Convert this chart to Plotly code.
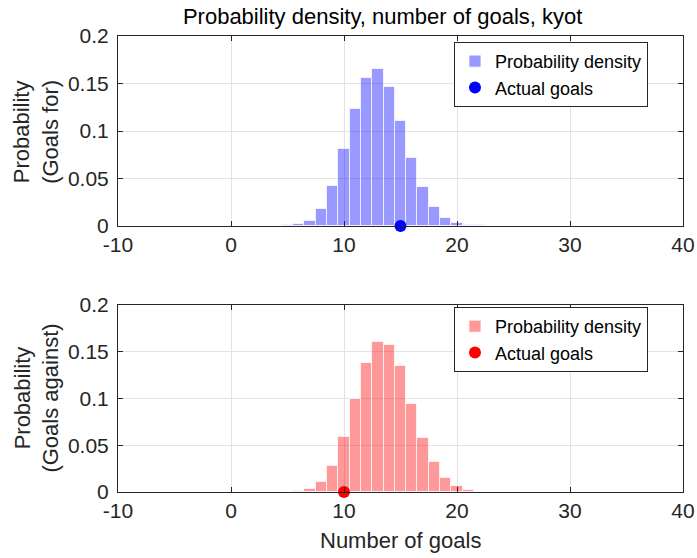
import plotly.graph_objects as go

# Anzahl Tore und geschaetzte Wahrscheinlichkeiten
goals = list(range(0, 37))

prob_for = [0.0001, 0.0001, 0.0002, 0.0002, 0.0004, 0.0008, 0.002, 0.005, 0.018, 0.042,
            0.081, 0.123, 0.156, 0.165, 0.146, 0.111, 0.072, 0.041, 0.020, 0.0084,
            0.003, 0.0015, 0.0006, 0.0003, 0.0002, 0.0001, 0.0001, 0.0001, 0.0001, 0.0001,
            0.0001, 0.0001, 0.0001, 0.0001, 0.0001, 0.0001, 0.0]

prob_against = [0.0001, 0.0001, 0.0001, 0.0002, 0.0002, 0.0004, 0.0008, 0.003, 0.0105, 0.028,
                0.059, 0.0997, 0.138, 0.1605, 0.157, 0.1346, 0.094, 0.058, 0.0318, 0.0154,
                0.0063, 0.0017, 0.0005, 0.0002, 0.0001, 0.0001, 0.0001, 0.0001, 0.0001, 0.0001,
                0.0001, 0.0001, 0.0001, 0.0001, 0.0001, 0.0001, 0.0]

actual_for = [15]
actual_against = [10]

x_ticks = [-10, 0, 10, 20, 30, 40]
x_labels = ["-10", "0", "10", "20", "30", "40"]
y_ticks = [0, 0.05, 0.1, 0.15, 0.2]
y_labels = ["0", "0.05", "0.1", "0.15", "0.2"]

FONT = "Liberation Sans, Arial, sans-serif"
TXT = "#262626"

fig = go.Figure()

fig.add_trace(go.Bar(x=goals, y=prob_for, width=1, name="Probability density",
                     marker=dict(color="rgba(0,0,255,0.4)",
                                 line=dict(color="rgba(255,255,255,0.7)", width=1)),
                     xaxis="x", yaxis="y", legend="legend"))
fig.add_trace(go.Scatter(x=actual_for, y=[0], mode="markers", name="Actual goals",
                         marker=dict(color="#0000ff", size=12), cliponaxis=False,
                         xaxis="x", yaxis="y", legend="legend"))

fig.add_trace(go.Bar(x=goals, y=prob_against, width=1, name="Probability density",
                     marker=dict(color="rgba(255,0,0,0.4)",
                                 line=dict(color="rgba(255,255,255,0.7)", width=1)),
                     xaxis="x2", yaxis="y2", legend="legend2"))
fig.add_trace(go.Scatter(x=actual_against, y=[0], mode="markers", name="Actual goals",
                         marker=dict(color="#ff0000", size=12), cliponaxis=False,
                         xaxis="x2", yaxis="y2", legend="legend2"))

axis_style = dict(showline=True, mirror="ticks", linecolor=TXT, linewidth=1,
                  ticks="inside", ticklen=5, tickcolor=TXT, automargin=False,
                  showgrid=True, gridcolor="#e3e3e3", gridwidth=1, zeroline=False,
                  tickfont=dict(size=21, color=TXT, family=FONT))

xax = dict(range=[-10, 40], tickvals=x_ticks, ticktext=x_labels, **axis_style)
yax = dict(range=[0, 0.2], tickvals=y_ticks, ticktext=y_labels, ticklabelstandoff=4, **axis_style)

legend_style = dict(xanchor="right", yanchor="top", bgcolor="white",
                    bordercolor=TXT, borderwidth=1,
                    font=dict(size=18, color="black", family=FONT),
                    tracegroupgap=0, itemwidth=30)

label_font = dict(size=22, color=TXT, family=FONT)

fig.update_layout(
    width=697, height=558,
    margin=dict(l=118, r=14, t=36, b=66),
    plot_bgcolor="white", paper_bgcolor="white",
    showlegend=True, bargap=0,
    xaxis=dict(domain=[0, 1], anchor="y", **xax),
    yaxis=dict(domain=[0.5833, 1], anchor="x", **yax),
    xaxis2=dict(domain=[0, 1], anchor="y2", **xax),
    yaxis2=dict(domain=[0, 0.4101], anchor="x2", **yax),
    title=dict(text="Probability density, number of goals, kyot", x=0.549, xanchor="center",
               y=0.971, yanchor="middle", font=dict(size=22, color="black", family=FONT)),
    legend=dict(x=0.938, y=0.987, **legend_style),
    legend2=dict(x=0.938, y=0.4057, **legend_style),
    annotations=[
        dict(text="Probability<br>(Goals for)", textangle=-90, xref="paper", yref="paper",
             x=-0.145, y=0.79, xanchor="center", yanchor="middle", showarrow=False,
             font=label_font),
        dict(text="Probability<br>(Goals against)", textangle=-90, xref="paper", yref="paper",
             x=-0.145, y=0.205, xanchor="center", yanchor="middle", showarrow=False,
             font=label_font),
        dict(text="Number of goals", xref="paper", yref="paper", x=0.5, y=-0.107,
             xanchor="center", yanchor="middle", showarrow=False, font=label_font),
    ],
)

# Seitenrand entfernen, damit die Grafik genau ins Fenster passt
fig.write_html("out.html", config={"displayModeBar": False},
               post_script="document.body.style.margin='0px';")
